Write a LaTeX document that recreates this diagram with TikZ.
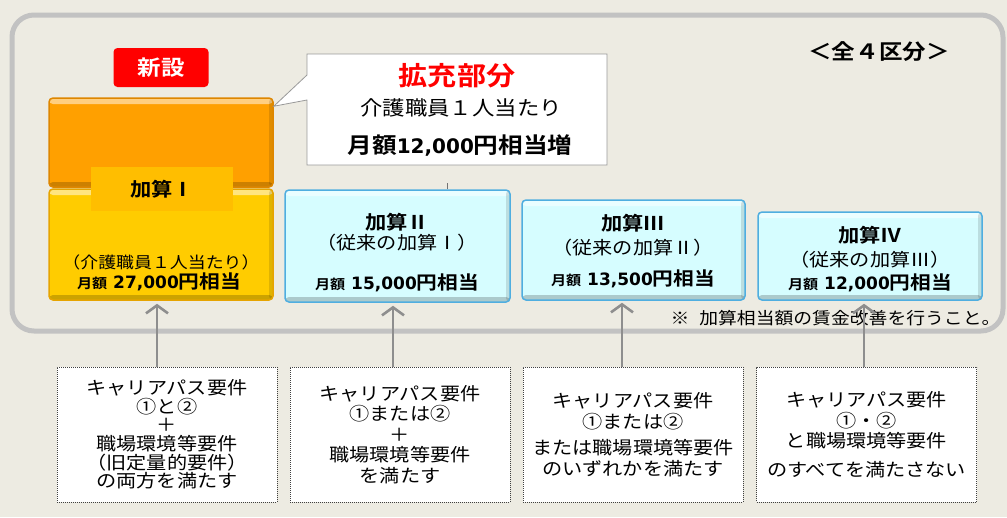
\documentclass[tikz,border=0pt]{standalone}
\usepackage{fontspec}
\newfontfamily\jp[FakeStretch=1.12]{Noto Sans CJK JP}
\newfontfamily\jpb[FakeStretch=1.12]{Noto Sans CJK JP Bold}
\newfontfamily\num{DejaVu Sans Bold}
\newcommand\jfs[1]{\fontsize{#1}{#1}\selectfont}
\newcommand\gaku[1]{{\jpb\jfs{13.5}月額}\hspace{6pt}{\num\jfs{17}#1}{\jpb\jfs{18.5}円相当}}
\usetikzlibrary{arrows.meta}
\definecolor{bg}{HTML}{EDEBE2}
\definecolor{frm}{HTML}{C2C2C2}
\definecolor{orA}{HTML}{FFA000}
\definecolor{orE}{HTML}{DE8600}
\definecolor{yeA}{HTML}{FFCC00}
\definecolor{yeE}{HTML}{E6A400}
\definecolor{yeS}{HTML}{FFBE00}
\definecolor{cyA}{HTML}{D6FDFF}
\definecolor{cyE}{HTML}{4FAEE0}
\definecolor{arrc}{HTML}{8E8E8E}
\tikzset{
  bevel/.style={rounded corners=4pt, line width=1.5pt, inner sep=0pt,
    path picture={
      \fill[white,opacity=.5] (path picture bounding box.north west) rectangle ([yshift=-6pt]path picture bounding box.north east);
      \fill[black,opacity=.2] ([yshift=5pt]path picture bounding box.south west) rectangle (path picture bounding box.south east);
      \fill[black,opacity=.12] ([xshift=-4pt]path picture bounding box.north east) rectangle (path picture bounding box.south east);}},
  blk/.style 2 args={bevel, fill=#1, draw=#2},
  req/.style={draw=black!75, line width=0.8pt, dash pattern=on 1pt off 1pt, fill=white,
    minimum width=220pt, minimum height=135pt, align=center, inner sep=0pt},
  arr/.style={draw=arrc, line width=2.6pt, -{Straight Barb[length=8pt, width=22pt]}},
}
\begin{document}
\begin{tikzpicture}[x=1pt, y=-1pt, font=\jp]
  \def\bw{224}
  \fill[bg] (0,0) rectangle (1007,517);
  \useasboundingbox (0,0) rectangle (1007,517);
  \draw[frm, line width=5pt, rounded corners=22pt] (12,15) rectangle (1003,331);

  \node[fill=red, rounded corners=4pt, minimum width=95pt, minimum height=39pt, text=white, font=\jpb\jfs{21}] (ns) at (161,67.5) {新設};
  \node[font=\jpb\jfs{21}] (zen) at (879,52) {＜全４区分＞};

  \node[blk={orA}{orE}, minimum width=\bw pt, minimum height=89pt] (k1a) at (161,142.5) {};
  \node[blk={yeA}{yeE}, minimum width=\bw pt, minimum height=111pt] (k1b) at (161,244.5) {};
  \node[blk={cyA}{cyE}, minimum width=225pt, minimum height=112pt] (k2) at (397.5,246) {};
  \node[blk={cyA}{cyE}, minimum width=223pt, minimum height=100pt] (k3) at (633.5,250) {};
  \node[blk={cyA}{cyE}, minimum width=224pt, minimum height=88pt] (k4) at (870,256) {};
  \node[fill=yeS, minimum width=142pt, minimum height=44pt, font=\jpb\jfs{19}] (k1s) at (162,189) {加算Ⅰ};

  \node[font=\jp\jfs{16}] (k1t) at (161,262) {（介護職員１人当たり）};
  \node (k1m) at (159,282) {\gaku{27,000}};
  \node[font=\jpb\jfs{19}] (k2n) at (397,222) {加算Ⅱ};
  \node[font=\jp\jfs{18}] (k2t) at (397,243) {（従来の加算Ⅰ）};
  \node (k2m) at (397,283) {\gaku{15,000}};
  \node[font=\jpb\jfs{19}] (k3n) at (633,223) {加算Ⅲ};
  \node[font=\jp\jfs{18}] (k3t) at (633,248) {（従来の加算Ⅱ）};
  \node (k3m) at (633,279) {\gaku{13,500}};
  \node[font=\jpb\jfs{19}] (k4n) at (870,235) {加算Ⅳ};
  \node[font=\jp\jfs{18}] (k4t) at (870,260) {（従来の加算Ⅲ）};
  \node (k4m) at (870,283) {\gaku{12,000}};

  \draw[fill=white, draw=black!40, line width=0.8pt] (307,54) -| (607,165) -| (307,100)
    -- ([yshift=-9pt]k1a.north east) -- (307,75) -- cycle;
  \node[text=red, font=\jpb\jfs{26}] (co1) at (457,76) {拡充部分};
  \node[font=\jp\jfs{20}] (co2) at (461,108) {介護職員１人当たり};
  \node[font=\jpb\jfs{22}] (co3) at (460,146) {月額{\num\jfs{20}12,000}円相当増};
  \draw[black!55, line width=1pt] ([xshift=50pt]k2.north) -- ++(0,-6);

  \node[anchor=west, font=\jp\jfs{16.8}] (note) at (667,318) {※\hspace{10pt}加算相当額の賃金改善を行うこと。};

  \node[req, font=\jp\fontsize{18}{18.6}\selectfont] (r1) at (167,434.5)
    {キャリアパス要件\\①と②\\＋\\職場環境等要件\\（旧定量的要件）\\の両方を満たす};
  \node[req, font=\jp\fontsize{18}{20.5}\selectfont] (r2) at (400,434.5)
    {キャリアパス要件\\①または②\\＋\\職場環境等要件\\を満たす};
  \node[req, font=\jp\fontsize{18}{21}\selectfont] (r3) at (633,434.5)
    {キャリアパス要件\\①または②\\[5pt]または職場環境等要件\\のいずれかを満たす};
  \node[req, font=\jp\fontsize{18}{20.5}\selectfont] (r4) at (866.5,434.5)
    {キャリアパス要件\\①・②\\と職場環境等要件\\[8pt]のすべてを満たさない};

  \draw[arr] ([xshift=-10pt]r1.north) -- ([xshift=-10pt,yshift=-3pt]r1.north |- k1b.south);
  \draw[arr] ([xshift=-7pt]r2.north) -- ([xshift=-7pt,yshift=-3pt]r2.north |- k2.south);
  \draw[arr] ([xshift=-11pt]r3.north) -- ([xshift=-11pt,yshift=-2pt]r3.north |- k3.south);
  \draw[arr] ([xshift=-2.5pt]r4.north) -- ([xshift=-2.5pt,yshift=-3pt]r4.north |- k4.south);
\end{tikzpicture}
\end{document}
